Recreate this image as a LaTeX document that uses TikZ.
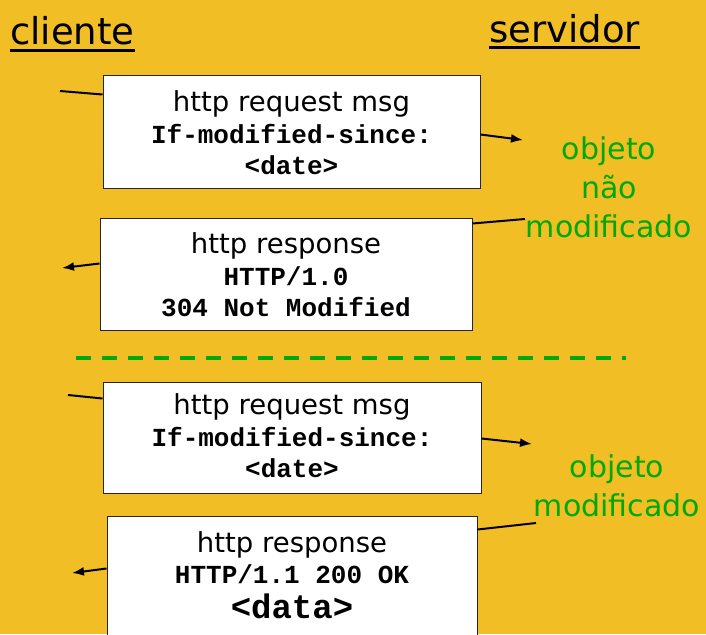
\documentclass[tikz,border=0pt]{standalone}
\usepackage{fontspec}
\setmainfont{DejaVu Sans}
\newfontfamily\codefont{Liberation Mono}
\usetikzlibrary{arrows.meta,calc}

\definecolor{bgyellow}{RGB}{241,190,38}
\definecolor{msggreen}{RGB}{0,168,0}

\tikzset{
  msgbox/.style={draw=black!85, line width=1pt, fill=white, inner sep=0pt},
  msgtext/.style={align=center, inner sep=0pt, font=\fontsize{26}{31.5}\selectfont},
  wire/.style={line width=2pt, black},
  arr/.style={wire, -{Latex[length=12pt,width=9pt]}},
  note/.style={text=msggreen, align=center, inner sep=0pt, font=\fontsize{30}{39}\selectfont},
  title/.style={font=\fontsize{37}{40}\selectfont, inner sep=0pt, anchor=base west},
  uline/.style={line width=3pt, black},
  sepline/.style={msggreen, line width=4pt, dash pattern=on 15pt off 11pt},
}
\newcommand\hdr[1]{{\fontsize{27.5}{31.5}\selectfont #1}}
\newcommand\code[1]{{\codefont\bfseries #1}}

\begin{document}
\begin{tikzpicture}[x=1pt, y=-1pt]
  \useasboundingbox (0,0) rectangle (706,634);
  \clip (0,0) rectangle (706,634);
  \fill[bgyellow] (0,0) rectangle (706,634);

  % column titles
  \node[title] (cl) at (10,45) {cliente};
  \draw[uline] ($(cl.base west)+(0,6)$) -- ($(cl.base east)+(0,6)$);
  \node[title] (sv) at (489,42) {servidor};
  \draw[uline] ($(sv.base west)+(0,6)$) -- ($(sv.base east)+(0,6)$);

  % first exchange: object not modified
  \node[msgbox, minimum width=377pt, minimum height=113pt] (req1) at (291.5,131.5) {};
  \node[msgtext] (req1t) at (291.5,133) {\hdr{http request msg}\\ \code{If-modified-since:}\\ \code{<date>}};
  \coordinate (req1in) at (60,91);
  \coordinate (req1out) at (523,140);
  \draw[wire] (req1in) -- ($(req1.north west)+(0,20)$);
  \draw[arr] ($(req1.north east)+(0,60)$) -- (req1out);

  \node[msgbox, minimum width=372pt, minimum height=112pt] (rsp1) at (286,274) {};
  \node[msgtext] (rsp1t) at (286,275) {\hdr{http response}\\ \code{HTTP/1.0}\\ \code{304 Not Modified}};
  \coordinate (rsp1in) at (525,219);
  \coordinate (rsp1out) at (62,268);
  \draw[wire] (rsp1in) -- ($(rsp1.north east)+(0,6)$);
  \draw[arr] ($(rsp1.north west)+(0,46)$) -- (rsp1out);

  \node[note] (n1) at (609,187) {objeto\\ não\\ modificado};

  % separator
  \coordinate (sepL) at (76,358);
  \coordinate (sepR) at (626,358);
  \draw[sepline] (sepL) -- (sepR);

  % second exchange: object modified
  \node[msgbox, minimum width=378pt, minimum height=111pt] (req2) at (292,437.5) {};
  \node[msgtext] (req2t) at (292,436) {\hdr{http request msg}\\ \code{If-modified-since:}\\ \code{<date>}};
  \coordinate (req2in) at (68,395);
  \coordinate (req2out) at (532,444);
  \draw[wire] (req2in) -- ($(req2.north west)+(0,17)$);
  \draw[arr] ($(req2.north east)+(0,57)$) -- (req2out);

  \node[msgbox, minimum width=370pt, minimum height=134pt] (rsp2) at (292,583) {};
  \node[msgtext] (rsp2t) at (292,575) {\hdr{http response}\\ \code{HTTP/1.1 200 OK}\\[3pt] {\codefont\bfseries\fontsize{34}{36}\selectfont <data>}};
  \coordinate (rsp2in) at (536,523);
  \coordinate (rsp2out) at (72,573);
  \draw[wire] (rsp2in) -- ($(rsp2.north east)+(0,14)$);
  \draw[arr] ($(rsp2.north west)+(0,53)$) -- (rsp2out);

  \node[note] (n2) at (617,486) {objeto\\ modificado};
\end{tikzpicture}
\end{document}
